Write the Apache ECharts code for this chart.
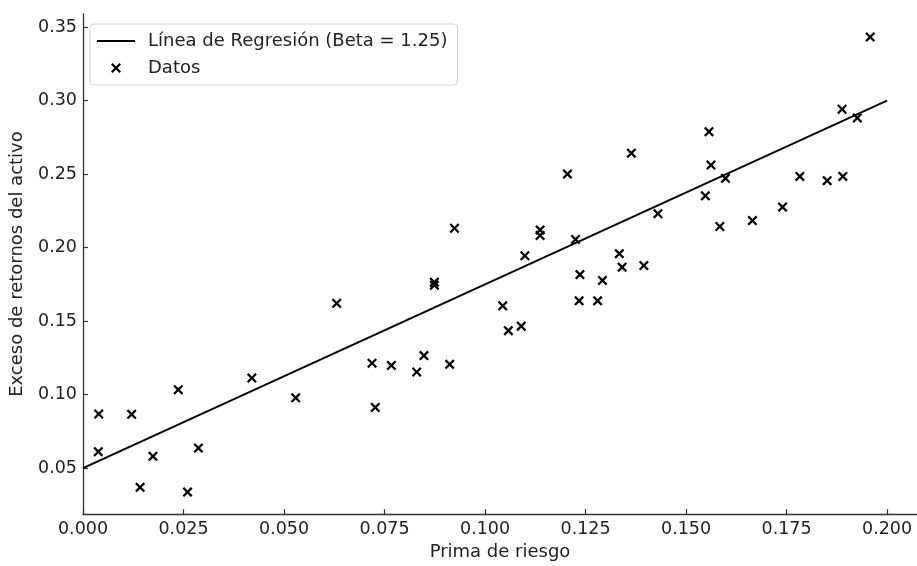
<!DOCTYPE html>
<html>
<head>
<meta charset="utf-8">
<script src="https://cdn.jsdelivr.net/npm/echarts@6/dist/echarts.min.js"></script>
<style>
html,body{margin:0;padding:0;background:#fff;}
#chart{width:917px;height:566px;}
</style>
</head>
<body>
<div id="chart"></div>
<script>
// Scatter data (Prima de riesgo, Exceso de retornos del activo)
const dataX = [0.0039,0.0038,0.0121,0.0142,0.0174,0.0237,0.0260,0.0287,0.0420,0.0529,
  0.0631,0.0719,0.0727,0.0767,0.0830,0.0848,0.0874,0.0874,0.0912,0.0924,
  0.1044,0.1058,0.1090,0.1099,0.1137,0.1137,0.1205,0.1225,0.1236,0.1234,
  0.1280,0.1292,0.1334,0.1341,0.1364,0.1395,0.1430,0.1548,0.1557,0.1562,
  0.1584,0.1598,0.1665,0.1740,0.1783,0.1851,0.1888,0.1890,0.1926,0.1958];
const dataY = [0.0868,0.0612,0.0866,0.0369,0.0580,0.1034,0.0337,0.0636,0.1113,0.0978,
  0.1621,0.1214,0.0913,0.1199,0.1154,0.1266,0.1765,0.1745,0.1206,0.2132,
  0.1604,0.1435,0.1466,0.1945,0.2121,0.2083,0.2501,0.2056,0.1817,0.1638,
  0.1638,0.1777,0.1959,0.1867,0.2643,0.1878,0.2231,0.2353,0.2789,0.2562,
  0.2144,0.2472,0.2184,0.2276,0.2485,0.2456,0.2942,0.2485,0.2883,0.3433];
// Regression line endpoints
const regX = [0.0, 0.2];
const regY = [0.05, 0.30];
// Tick labels
const xTicks = [0.000,0.025,0.050,0.075,0.100,0.125,0.150,0.175,0.200];
const yTicks = [0.05,0.10,0.15,0.20,0.25,0.30,0.35];

const lineName = 'Línea de Regresión (Beta = 1.25)';
const scatterName = 'Datos';
const xMark = 'path://M0,1.6L1.6,0L5,3.4L8.4,0L10,1.6L6.6,5L10,8.4L8.4,10L5,6.6L1.6,10L0,8.4L3.4,5Z';
const lineIcon = 'path://M0,0L38,0L38,2L0,2Z';

const font = 'DejaVu Sans';
const txt = '#222';
const axisCol = '#333';

const chart = echarts.init(document.getElementById('chart'), null, {renderer:'canvas'});
chart.setOption({
  animation: false,
  textStyle: {fontFamily: font},
  grid: {left: 81, top: 14, right: 0, bottom: 48, containLabel: false},
  legend: {
    orient: 'vertical',
    left: 90, top: 24,
    padding: [8, 10, 8, 7],
    itemGap: 9,
    itemWidth: 38,
    itemHeight: 10,
    borderColor: '#d0d0d0',
    borderWidth: 1,
    borderRadius: 4,
    backgroundColor: 'rgba(255,255,255,0.85)',
    textStyle: {fontFamily: font, fontSize: 18, color: txt, padding: [0,0,0,8]},
    data: [
      {name: lineName, icon: lineIcon, itemStyle: {color: '#000'}},
      {name: scatterName, icon: xMark, itemStyle: {color: '#000'}}
    ]
  },
  xAxis: {
    type: 'value',
    min: 0, max: 0.20744,
    name: 'Prima de riesgo',
    nameLocation: 'middle',
    nameGap: 28,
    nameTextStyle: {fontFamily: font, fontSize: 18, color: txt},
    splitLine: {show: false},
    axisLine: {show: true, lineStyle: {color: axisCol, width: 1.3}},
    axisTick: {show: true, inside: true, length: 5, customValues: xTicks, lineStyle: {color: axisCol, width: 1.2}},
    axisLabel: {customValues: xTicks, margin: 6, fontFamily: font, fontSize: 17.5, color: txt,
      formatter: v => v.toFixed(3)}
  },
  yAxis: {
    type: 'value',
    min: 0.0187, max: 0.359,
    name: 'Exceso de retornos del activo',
    nameLocation: 'middle',
    nameGap: 57,
    nameTextStyle: {fontFamily: font, fontSize: 18, color: txt},
    splitLine: {show: false},
    axisLine: {show: true, lineStyle: {color: axisCol, width: 1.3}},
    axisTick: {show: true, inside: true, length: 5, customValues: yTicks, lineStyle: {color: axisCol, width: 1.2}},
    axisLabel: {customValues: yTicks, margin: 6, fontFamily: font, fontSize: 17.5, color: txt,
      formatter: v => v.toFixed(2)}
  },
  series: [
    {
      name: lineName,
      type: 'line',
      symbol: 'none',
      data: regX.map((x, i) => [x, regY[i]]),
      lineStyle: {color: '#000', width: 2},
      itemStyle: {color: '#000'},
      z: 2
    },
    {
      name: scatterName,
      type: 'scatter',
      symbol: xMark,
      symbolSize: 10,
      data: dataX.map((x, i) => [x, dataY[i]]),
      itemStyle: {color: '#000', opacity: 1},
      z: 3
    }
  ]
});
</script>
</body>
</html>
